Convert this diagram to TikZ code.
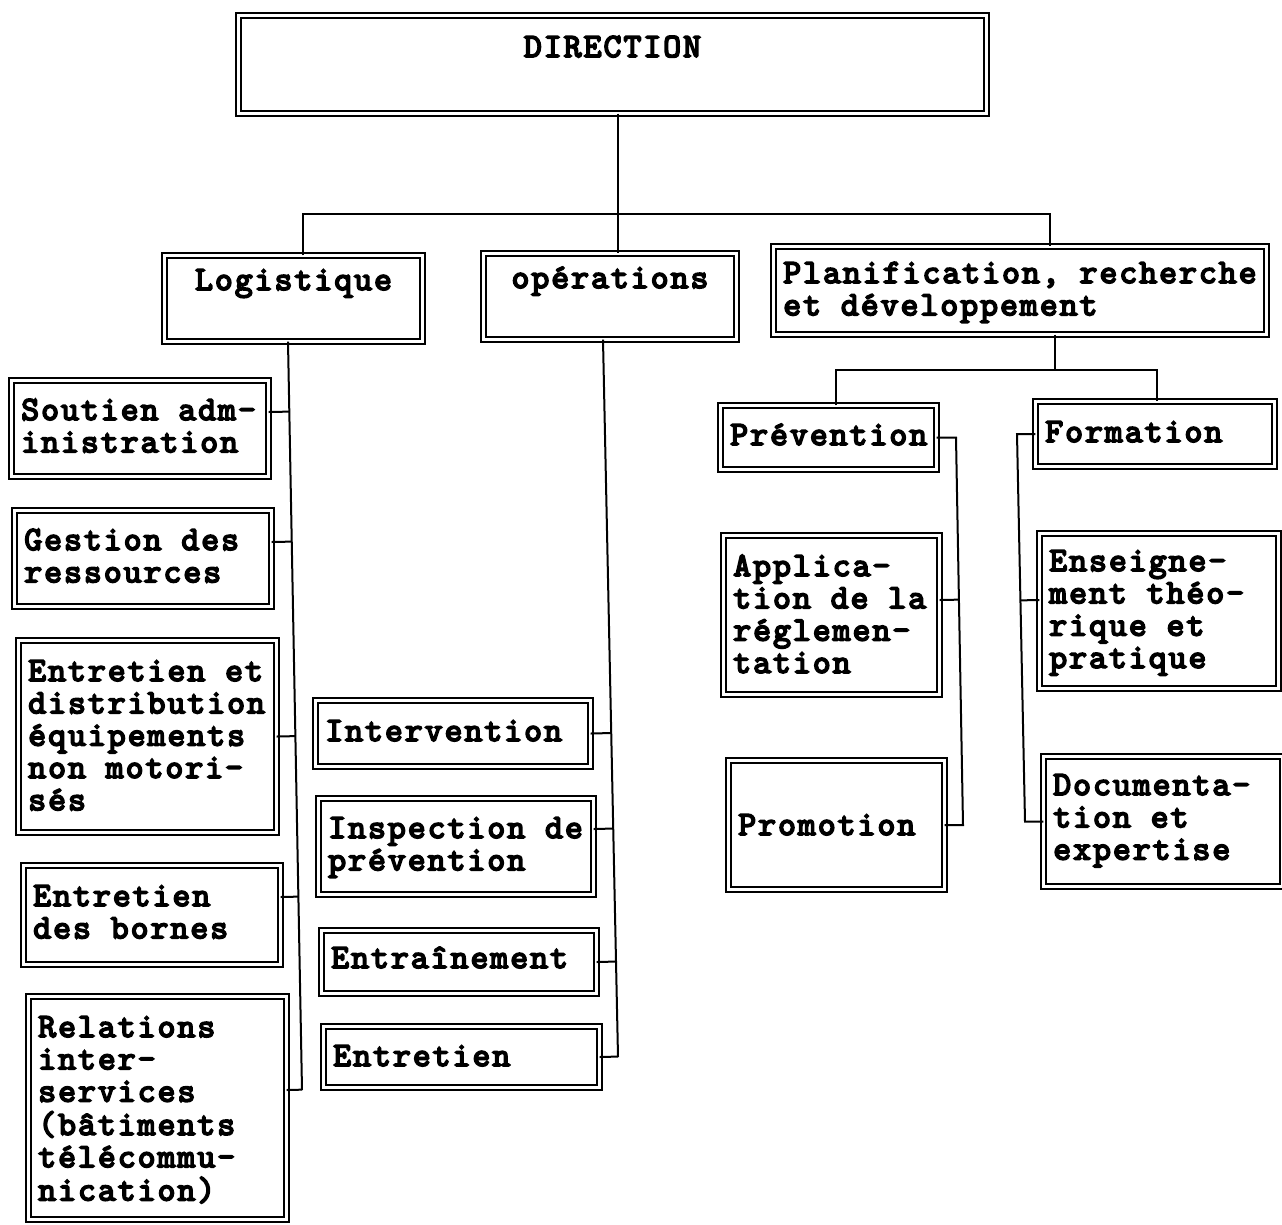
\documentclass[tikz,border=0pt]{standalone}
\usepackage{fontspec}
\usetikzlibrary{calc}
\newfontfamily\orgfam{lmmono10-regular.otf}[FakeBold=5,LetterSpace=6]
\newcommand\orgfont{\orgfam\fontsize{34pt}{32.3pt}\selectfont}
% #1 name, #2 x, #3 y (outer top-left, px), #4 width, #5 height, #6 baseline offset, #7 align (l/c), #8 text
\newcommand\orgnode[8]{%
  \node[obox] (#1) at (#2+3.3,#3+3.3)
  {\rule[\dimexpr#6pt-#5pt+3.3pt\relax]{0pt}{\dimexpr#5pt-6.6pt\relax}%
   \makebox[\dimexpr#4pt-26.6pt\relax][#7]{\begin{tabular}[t]{@{}#7@{}}#8\end{tabular}}};}
\tikzset{
  obox/.style={draw, double=white, double distance=3pt, line width=1.8pt,
    anchor=north west, inner xsep=10pt, inner ysep=0pt, outer sep=0pt, font=\orgfont},
  link/.style={line width=2pt}
}
\begin{document}
\begin{tikzpicture}[x=1pt,y=-1pt]
\useasboundingbox[fill=white] (0,0) rectangle (1282,1224);

\orgnode{dir}{235}{12}{755}{105}{45}{c}{DIRECTION}
\orgnode{log}{161}{252}{265}{93}{38}{c}{Logistique}
\orgnode{ops}{480}{250}{260}{93}{38}{c}{opérations}
\orgnode{plan}{770}{243}{500}{95}{40}{l}{Planification, recherche\\et développement}

\orgnode{sout}{8}{377}{264}{103}{43}{l}{Soutien adm-\\inistration}
\orgnode{gest}{11}{507}{264}{103}{43}{l}{Gestion des\\ressources}
\orgnode{entd}{15}{637}{265}{199}{44}{l}{Entretien et\\distribution\\équipements\\non motori-\\sés}
\orgnode{born}{20}{862}{264}{106}{44}{l}{Entretien\\des bornes}
\orgnode{rel}{25}{993}{265}{230}{44}{l}{Relations\\inter-\\services\\(bâtiments\\télécommu-\\nication)}

\orgnode{interv}{312}{697}{282}{73}{44}{l}{Intervention}
\orgnode{insp}{315}{795}{282}{103}{43}{l}{Inspection de\\prévention}
\orgnode{entr}{318}{927}{282}{70}{41}{l}{Entraînement}
\orgnode{entn}{320}{1023}{283}{68}{43}{l}{Entretien}

\orgnode{prev}{717}{402}{223}{71}{43}{l}{Prévention}
\orgnode{appl}{720}{532}{223}{166}{44}{l}{Applica-\\tion de la\\réglemen-\\tation}
\orgnode{prom}{725}{757}{223}{136}{78}{l}{Promotion}

\orgnode{form}{1032}{398}{246}{72}{44}{l}{Formation}
\orgnode{ens}{1036}{530}{246}{162}{41}{l}{Enseigne-\\ment théo-\\rique et\\pratique}
\orgnode{doc}{1040}{753}{246}{137}{42}{l}{Documenta-\\tion et\\expertise}

% top level
\coordinate (bm) at (618,214);
\coordinate (bl) at (303,214);
\coordinate (br) at (1050,214);
\draw[link] (dir.south -| bm) -- (bm);
\draw[link] (log.north -| bl) -- (bl) -- (br) -- (plan.north -| br);
\draw[link] (bm) -- (ops.north -| bm);

% Logistique column
\coordinate (lt) at (288,345);
\coordinate (lb) at (302,1090);
\draw[link] (log.south -| lt) -- (lb);
\coordinate (l1) at ([yshift=16.5pt]sout.east);
\coordinate (l2) at ([yshift=16.5pt]gest.east);
\coordinate (l3) at (entd.east);
\coordinate (l4) at ([yshift=18pt]born.east);
\coordinate (l5) at ([yshift=18pt]rel.east);
\foreach \c in {l1,l2,l3,l4,l5}{\draw[link] (\c) -- ($(lt)!(\c)!(lb)$);}

% operations column
\coordinate (ot) at (603,343);
\coordinate (ob) at (618,1057);
\draw[link] (ops.south -| ot) -- (ob);
\coordinate (o1) at (interv.east);
\coordinate (o2) at ([yshift=17.5pt]insp.east);
\coordinate (o3) at (entr.east);
\coordinate (o4) at (entn.east);
\foreach \c in {o1,o2,o3,o4}{\draw[link] (\c) -- ($(ot)!(\c)!(ob)$);}

% planification
\coordinate (pm) at (1055,370);
\coordinate (pl) at (836,370);
\coordinate (pr) at (1157,370);
\draw[link] (plan.south -| pm) -- (pm);
\draw[link] (prev.north -| pl) -- (pl) -- (pr) -- (form.north -| pr);

% Prevention branch
\coordinate (vt) at (prev.east -| 956,0);
\coordinate (vb) at (prom.east -| 963,0);
\draw[link] (prev.east) -- (vt) -- (vb) -- (prom.east);
\coordinate (v1) at ([yshift=15pt]appl.east);
\draw[link] (v1) -- ($(vt)!(v1)!(vb)$);

% Formation branch
\coordinate (ft) at (form.west -| 1017,0);
\coordinate (fb) at (doc.west -| 1025,0);
\draw[link] (form.west) -- (ft) -- (fb) -- (doc.west);
\coordinate (f1) at ([yshift=11pt]ens.west);
\draw[link] (f1) -- ($(ft)!(f1)!(fb)$);
\end{tikzpicture}
\end{document}
